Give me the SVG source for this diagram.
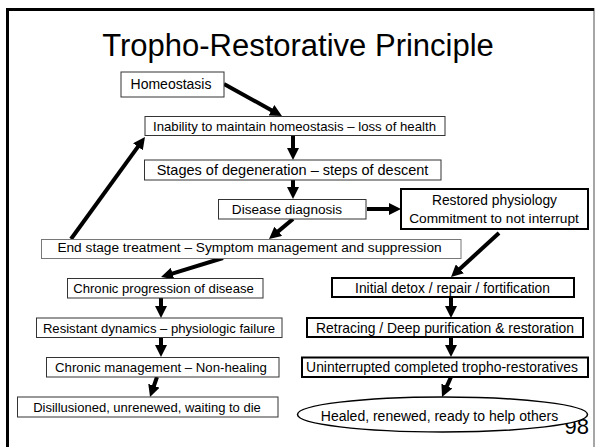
<svg xmlns="http://www.w3.org/2000/svg" width="596" height="447" viewBox="0 0 596 447">
<style>
text{font-family:"Liberation Sans",Arial,sans-serif;fill:#000;text-anchor:middle}
.t{font-size:31px}
.box{fill:#fff;stroke:#333;stroke-width:1}
.thick{fill:#fff;stroke:#000;stroke-width:2}
.grey{fill:#fff;stroke:#777;stroke-width:1}
.arr{fill:none;stroke:#000;stroke-width:4;marker-end:url(#ah)}
</style>
<defs>
<marker id="ah" markerUnits="userSpaceOnUse" markerWidth="13" markerHeight="12" refX="2" refY="6" orient="auto" viewBox="0 0 13 12">
<path d="M0,0 L12,6 L0,12 z" fill="#000"/>
</marker>
</defs>
<rect x="0" y="0" width="596" height="447" fill="#fff"/>
<g id="frame">
<line x1="594" y1="8" x2="594" y2="447" stroke="#888" stroke-width="1.5"/>
<line x1="7.5" y1="8" x2="7.5" y2="447" stroke="#000" stroke-width="3"/>
<line x1="6" y1="9.5" x2="594" y2="9.5" stroke="#000" stroke-width="3"/>
</g>
<text id="page" x="589" y="434" style="font-size:22px;text-anchor:end">98</text>
<text id="title" class="t" x="298" y="56">Tropho-Restorative Principle</text>
<g id="connectors">
<path class="arr" d="M224,84 L273.2,111.2"/>
<path class="arr" d="M293,136 L293,150"/>
<path class="arr" d="M293,180 L293,189"/>
<path class="arr" d="M367,209 L391,209"/>
<path class="arr" d="M293,219 L276.7,232.6"/>
<path class="arr" d="M71,239 L139.1,145.1"/>
<path class="arr" d="M499,233 L458.4,270.2"/>
<path class="arr" d="M223,258 L170.6,274.1"/>
<path class="arr" d="M161,298 L161,308"/>
<path class="arr" d="M161,337 L161,347"/>
<path class="arr" d="M157,377 L153.3,387.6"/>
<path class="arr" d="M451,297 L451,308"/>
<path class="arr" d="M451,337 L451,347"/>
<path class="arr" d="M451,377 L446.1,387.9"/>
</g>
<g id="homeostasis">
<rect class="box" x="121" y="72" width="103" height="25"/>
<text x="171" y="88.5" style="font-size:14px">Homeostasis</text>
</g>
<g id="inability">
<rect class="box" x="145" y="116.5" width="300" height="19"/>
<text x="294.5" y="130.5" style="font-size:13.2px">Inability to maintain homeostasis – loss of health</text>
</g>
<g id="stages">
<rect class="box" x="144.5" y="160" width="296.5" height="20"/>
<text x="292.5" y="175" style="font-size:14.5px">Stages of degeneration – steps of descent</text>
</g>
<g id="diagnosis">
<rect class="box" x="218.5" y="199.5" width="147.5" height="19.5"/>
<text x="287" y="214" style="font-size:13.6px">Disease diagnosis</text>
</g>
<g id="restored">
<rect class="thick" x="401" y="189" width="187" height="40"/>
<text x="494.5" y="205" style="font-size:13.8px">Restored physiology</text>
<text x="494" y="222.5" style="font-size:13.7px">Commitment to not interrupt</text>
</g>
<g id="endstage">
<rect class="grey" x="41.5" y="239.5" width="419.5" height="19"/>
<text x="249.5" y="252" style="font-size:13.7px">End stage treatment – Symptom management and suppression</text>
</g>
<g id="chronic-progression">
<rect class="box" x="67.5" y="278.5" width="195.5" height="19.5"/>
<text x="163.5" y="293" style="font-size:13.1px">Chronic progression of disease</text>
</g>
<g id="resistant">
<rect class="box" x="36.5" y="318" width="245.5" height="19.5"/>
<text x="159" y="332.5" style="font-size:13.1px">Resistant dynamics – physiologic failure</text>
</g>
<g id="chronic-management">
<rect class="box" x="46.5" y="357.5" width="232.5" height="19.5"/>
<text x="161" y="372" style="font-size:13.2px">Chronic management – Non-healing</text>
</g>
<g id="disillusioned">
<rect class="box" x="17.5" y="397" width="260.5" height="20"/>
<text x="147" y="412" style="font-size:13px">Disillusioned, unrenewed, waiting to die</text>
</g>
<g id="initial-detox">
<rect class="thick" x="332" y="278" width="242" height="19"/>
<text x="452.5" y="292.5" style="font-size:13.8px">Initial detox / repair / fortification</text>
</g>
<g id="retracing">
<rect class="thick" x="307" y="318" width="276" height="19"/>
<text x="445" y="332.5" style="font-size:13.9px">Retracing / Deep purification &amp; restoration</text>
</g>
<g id="uninterrupted">
<rect class="thick" x="302" y="357.5" width="286" height="19.5"/>
<text x="442" y="372" style="font-size:13.9px">Uninterrupted completed tropho-restoratives</text>
</g>
<g id="healed">
<ellipse cx="442.5" cy="414.5" rx="145" ry="17.5" fill="#fff" stroke="#000" stroke-width="1.5"/>
<text x="439.5" y="421" style="font-size:14px">Healed, renewed, ready to help others</text>
</g>
</svg>
